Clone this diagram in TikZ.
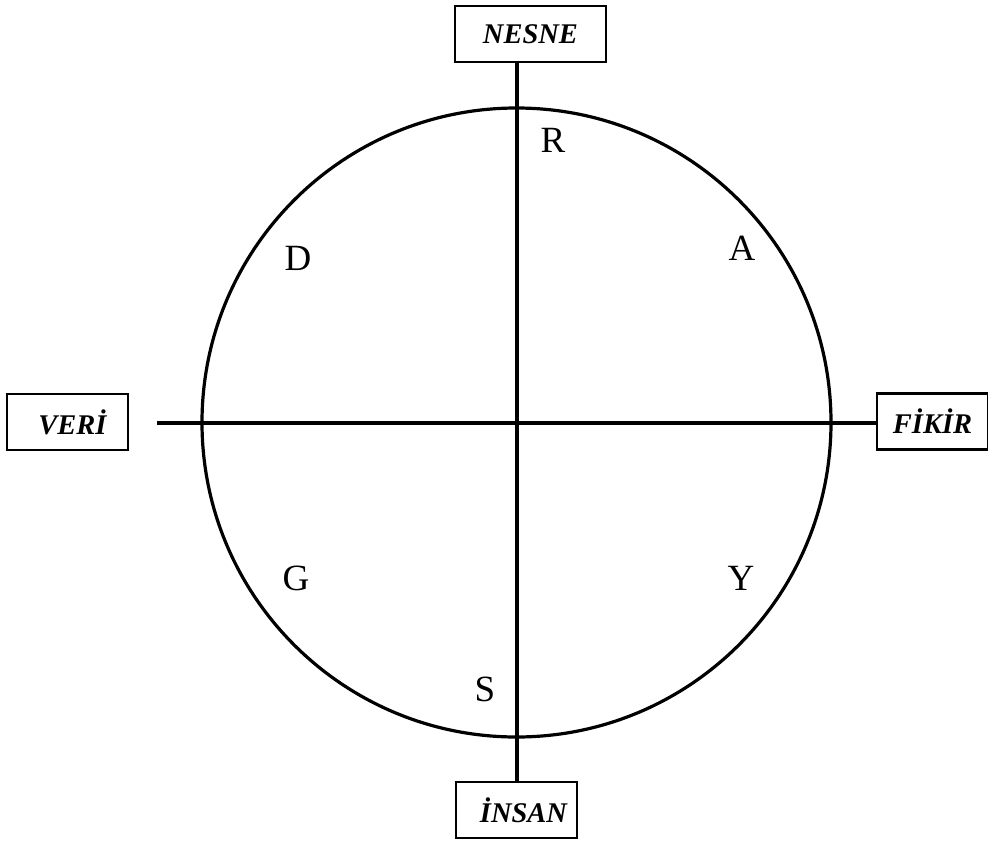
\documentclass[tikz,border=0pt]{standalone}
\usepackage{fontspec}
\setmainfont{Liberation Serif}
\begin{document}
\begin{tikzpicture}[x=1pt,y=-1pt,
  axisbox/.style={draw,line width=2.2pt,minimum width=121pt,minimum height=56pt,inner sep=0pt,font=\fontsize{28.5}{32}\selectfont\bfseries\itshape},
  letter/.style={anchor=base,inner sep=0pt,font=\fontsize{37}{40}\selectfont},
  axisline/.style={line width=4.6pt},
  thinline/.style={line width=3.2pt}]
\useasboundingbox (0,0) rectangle (988,841);
% circle
\node[draw,circle,line width=3.2pt,minimum size=629pt,inner sep=0pt] (circ) at (516.5,422.5) {};
\coordinate (ctop) at (517,108);
\coordinate (cbot) at (517,737);
\coordinate (cleft) at (202,423);
\coordinate (cright) at (831,423);
\coordinate (c) at (517,423);
\coordinate (lend) at (157,423);
% boxes
\node[axisbox,minimum width=151pt] (nesne) at (530.5,34) {NESNE};
\node[axisbox] (veri) at (67.5,422) {\hspace{10pt}VERİ};
\node[axisbox,minimum width=111pt] (fikir) at (932.5,421.5) {FİKİR};
\node[axisbox] (insan) at (516.5,810) {\hspace{14pt}İNSAN};
% axes
\draw[axisline] (ctop |- nesne.south) -- (cbot);
\draw[thinline] (cbot) -- (cbot |- insan.north);
\draw[axisline] (lend) -- (cright);
\draw[thinline] (cright) -- (fikir.west |- cright);
% letters
\node[letter] (R) at (553,152) {R};
\node[letter] (D) at (298,270) {D};
\node[letter] (A) at (742,260) {A};
\node[letter] (G) at (296,590) {G};
\node[letter] (Y) at (741,590) {Y};
\node[letter] (S) at (485,701) {S};
\end{tikzpicture}
\end{document}
